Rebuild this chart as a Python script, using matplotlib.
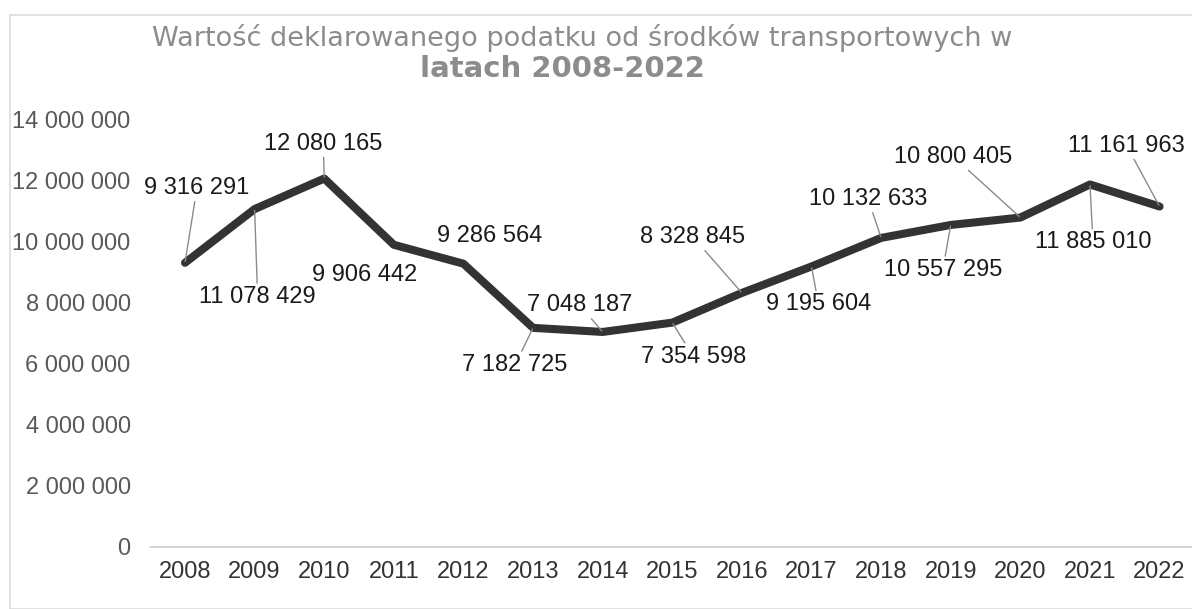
import matplotlib
matplotlib.use("Agg")
import matplotlib.pyplot as plt
from matplotlib.patches import Rectangle

years = ["2008", "2009", "2010", "2011", "2012", "2013", "2014", "2015",
         "2016", "2017", "2018", "2019", "2020", "2021", "2022"]
values = [9316291, 11078429, 12080165, 9906442, 9286564, 7182725, 7048187,
          7354598, 8328845, 9195604, 10132633, 10557295, 10800405, 11885010,
          11161963]
yticks = [0, 2000000, 4000000, 6000000, 8000000, 10000000, 12000000, 14000000]

# label offsets (pixels) and whether a leader line is drawn
label_offsets = [(12, 75), (3, -88), (-1, 35), (-29, -30), (26, 28), (-18, -37),
                 (-23, 27), (21, -34), (-49, 56), (7, -38), (-13, 39), (-8, -45),
                 (-67, 61), (3, -58), (-33, 61)]
leaders = [True, True, True, False, False, True, True, True, True, True, True,
           True, True, True, True]

plt.rcParams['font.family'] = ['Liberation Sans', 'DejaVu Sans']

fig = plt.figure(figsize=(11.92, 6.09), dpi=100)
fig.patches.append(Rectangle((0.008, 0.0), 0.995, 0.975, transform=fig.transFigure,
                             fill=False, edgecolor='#dcdcdc', linewidth=1.2))
ax = fig.add_axes([0.126, 0.102, 0.876, 0.701])

def fmt(v):
    return f"{v:,}".replace(",", " ")

x = list(range(len(years)))
ax.plot(x, values, color='#333333', linewidth=5.8, solid_joinstyle='round',
        solid_capstyle='round', zorder=3)

for i, v in enumerate(values):
    dx, dy = label_offsets[i]
    kw = {}
    if leaders[i]:
        kw['arrowprops'] = dict(arrowstyle='-', color='#8a8a8a', lw=1.0,
                                shrinkA=0, shrinkB=1)
    ax.annotate(fmt(v), xy=(i, v), xytext=(dx, dy), textcoords='offset pixels',
                ha='center', va='center', fontsize=17, color='#1a1a1a',
                zorder=4, annotation_clip=False, **kw)

ax.set_xlim(-0.5, len(years) - 0.5)
ax.set_ylim(0, 14000000)
ax.set_xticks(x)
ax.set_xticklabels(years, fontsize=17, color='#333333')
ax.set_yticks(yticks)
ax.set_yticklabels([fmt(t) for t in yticks], fontsize=17, color='#595959')
ax.tick_params(axis='both', length=0)
ax.tick_params(axis='x', pad=10)
ax.tick_params(axis='y', pad=14)
for s in ['top', 'right', 'left']:
    ax.spines[s].set_visible(False)
ax.spines['bottom'].set_color('#d0d0d0')
ax.spines['bottom'].set_linewidth(1.2)

fig.text(0.488, 0.937, "Wartość deklarowanego podatku od środków transportowych w",
         ha='center', va='center', fontsize=19.5, color='#8c8c8c',
         family=['DejaVu Sans'])
fig.text(0.472, 0.886, "latach 2008-2022", ha='center', va='center',
         fontsize=21, color='#8c8c8c', fontweight='bold', family=['DejaVu Sans'])

fig.savefig("out.png", dpi=100, facecolor='white')
